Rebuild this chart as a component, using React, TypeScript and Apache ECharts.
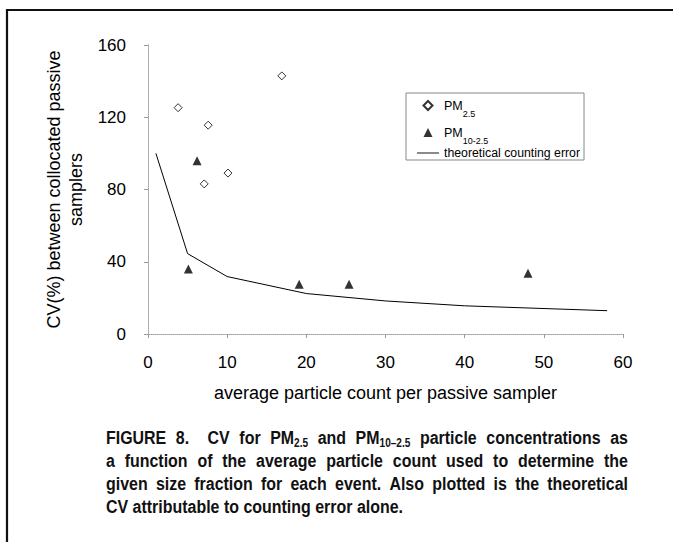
import React, { useEffect, useRef } from 'react';
import * as echarts from 'echarts';

// ---- data ----
const pm25X = [3.8, 7.6, 10.1, 7.1, 16.9];
const pm25Y = [125.3, 115.6, 89.1, 83.1, 142.9];
const pm10X = [6.2, 5.1, 19.1, 25.4, 48.0];
const pm10Y = [95.9, 36.0, 27.5, 27.5, 33.6];
const theoX = [1, 5, 10, 20, 30, 40, 58];
const theoY = [100, 44.5, 31.8, 22.4, 18.3, 15.6, 12.9];
const seriesNames = ['PM2.5', 'PM10-2.5', 'theoretical counting error'];
const xTitle = 'average particle count per passive sampler';
const yTitle = 'CV(%) between collocated passive\nsamplers';
// caption lines: [text, isSubscript][]
const captionLines: [string, boolean][][] = [
  [['FIGURE 8.   CV for PM', false], ['2.5', true], [' and PM', false], ['10\u20132.5', true], [' particle concentrations as', false]],
  [['a function of the average particle count used to determine the', false]],
  [['given size fraction for each event. Also plotted is the theoretical', false]],
  [['CV attributable to counting error alone.', false]],
];

const FONT = '"Liberation Sans", Arial, Helvetica, sans-serif';
const ICON_DIAMOND = 'path://M5,0L10,5L5,10L0,5Z';
const ICON_TRIANGLE = 'path://M5,0L10,10L0,10Z';
const ICON_LINE = 'path://M0,0L24,0L24,1L0,1Z';

export default function App() {
  const ref = useRef<HTMLDivElement>(null);
  useEffect(() => {
    if (!ref.current) return;
    const chart = echarts.init(ref.current, null, { renderer: 'svg' });

    const capSize = 19;
    const subSize = 12;
    const s0 = 0.84; // horizontal condensation of the caption face
    const canvas = document.createElement('canvas');
    const ctx = canvas.getContext('2d')!;
    const measure = (t: string, size: number) => {
      ctx.font = `bold ${size}px ${FONT}`;
      return ctx.measureText(t).width;
    };
    const capLeft = 106;
    const capRight = 628;
    const capYs = [438, 461, 484, 507];

    type Word = { parts: [string, boolean][]; gapBefore: number };
    const parse = (segs: [string, boolean][]) => {
      const words: Word[] = [];
      let cur: Word = { parts: [], gapBefore: 0 };
      segs.forEach(([t, sub]) => {
        if (sub) {
          cur.parts.push([t, true]);
          return;
        }
        t.split(/( +)/).forEach((p) => {
          if (p === '') return;
          if (/^ +$/.test(p)) {
            if (cur.parts.length) words.push(cur);
            cur = { parts: [], gapBefore: p.length };
          } else {
            cur.parts.push([p, false]);
          }
        });
      });
      if (cur.parts.length) words.push(cur);
      return words;
    };
    const wordWidth = (w: Word) =>
      w.parts.reduce((acc, [t, sub]) => acc + measure(t, sub ? subSize : capSize), 0);
    const spaceW = measure(' ', capSize) * s0;

    const captionGraphics: any[] = [];
    captionLines.forEach((segs, i) => {
      const words = parse(segs);
      const widths = words.map((w) => wordWidth(w) * s0);
      const totalW = widths.reduce((a, b) => a + b, 0);
      const baseGaps = words.map((w, k) => (k > 0 ? w.gapBefore * spaceW : 0));
      const baseTotal = baseGaps.reduce((a, b) => a + b, 0);
      const nGaps = words.length - 1;
      const justify = i < captionLines.length - 1;
      const extra = justify && nGaps > 0 ? (capRight - capLeft - totalW - baseTotal) / nGaps : 0;
      let x = capLeft;
      words.forEach((w, k) => {
        if (k > 0) x += baseGaps[k] + extra;
        const text = w.parts.map(([t, sub]) => (sub ? `{s|${t}}` : t)).join('');
        captionGraphics.push({
          type: 'text',
          x,
          y: capYs[i],
          scaleX: s0,
          style: {
            text,
            fill: '#111',
            fontSize: capSize,
            fontWeight: 'bold',
            fontFamily: FONT,
            lineHeight: 22,
            textAlign: 'left',
            verticalAlign: 'middle',
            rich: {
              s: {
                fontSize: subSize,
                fontWeight: 'bold',
                fontFamily: FONT,
                fill: '#111',
                lineHeight: 12,
                verticalAlign: 'bottom',
              },
            },
          },
        });
        x += widths[k];
      });
    });

    const option: any = {
      animation: false,
      backgroundColor: '#fff',
      grid: { left: 148, top: 45, right: 50, bottom: 208 },
      legend: {
        orient: 'vertical',
        left: 406,
        top: 93,
        padding: [0, 4, 1, 11],
        itemGap: 2,
        itemWidth: 22,
        itemHeight: 9,
        borderColor: '#888',
        borderWidth: 1,
        selectedMode: false,
        data: [
          { name: seriesNames[0], icon: ICON_DIAMOND },
          { name: seriesNames[1], icon: ICON_TRIANGLE },
          { name: seriesNames[2], icon: ICON_LINE },
        ],
        formatter: (name: string) => {
          if (name === seriesNames[0]) return '{m|PM}{s|2.5}';
          if (name === seriesNames[1]) return '{m|PM}{s|10-2.5}';
          return '{t|' + name + '}';
        },
        textStyle: {
          color: '#000',
          fontFamily: FONT,
          fontSize: 12.3,
          rich: {
            m: { fontSize: 12.5, fontFamily: FONT, color: '#000', lineHeight: 14 },
            s: { fontSize: 9, fontFamily: FONT, color: '#000', lineHeight: 9, padding: [16, 0, 0, 0] },
            t: { fontSize: 12.3, fontFamily: FONT, color: '#000', lineHeight: 9 },
          },
        },
      },
      xAxis: [
        {
          type: 'value',
          min: 0,
          max: 60,
          interval: 10,
          name: xTitle,
          nameLocation: 'middle',
          nameGap: 50,
          nameTextStyle: { fontSize: 18, fontFamily: FONT, color: '#000' },
          axisLine: { show: true, lineStyle: { color: '#777', width: 1 } },
          axisTick: { show: true, length: 4, lineStyle: { color: '#999' } },
          axisLabel: { fontSize: 17, fontFamily: FONT, color: '#000', margin: 20 },
          splitLine: { show: false },
        },
        {
          type: 'value',
          position: 'top',
          min: 0,
          max: 60,
          interval: 10,
          axisLine: { show: true, lineStyle: { color: '#bbb', width: 1, type: 'dotted' } },
          axisTick: { show: false },
          axisLabel: { show: false },
          splitLine: { show: false },
        },
      ],
      yAxis: [
        {
          type: 'value',
          min: 0,
          max: 160,
          interval: 40,
          name: yTitle,
          nameLocation: 'middle',
          nameRotate: 90,
          nameGap: 53,
          nameTextStyle: { fontSize: 18, lineHeight: 22, fontFamily: FONT, color: '#000' },
          axisLine: { show: true, lineStyle: { color: '#777', width: 1 } },
          axisTick: { show: true, length: 4, lineStyle: { color: '#999' } },
          axisLabel: { fontSize: 17, fontFamily: FONT, color: '#000', margin: 22 },
          splitLine: { show: false },
        },
        {
          type: 'value',
          position: 'right',
          min: 0,
          max: 160,
          interval: 40,
          axisLine: { show: true, lineStyle: { color: '#bbb', width: 1, type: 'dotted' } },
          axisTick: { show: false },
          axisLabel: { show: false },
          splitLine: { show: false },
        },
      ],
      series: [
        {
          name: seriesNames[0],
          type: 'scatter',
          symbol: 'diamond',
          symbolSize: 8,
          itemStyle: { color: '#fff', borderColor: '#000', borderWidth: 1 },
          data: pm25X.map((x, i) => [x, pm25Y[i]]),
          z: 3,
        },
        {
          name: seriesNames[1],
          type: 'scatter',
          symbol: 'triangle',
          symbolSize: 9,
          itemStyle: { color: '#000' },
          data: pm10X.map((x, i) => [x, pm10Y[i]]),
          z: 3,
        },
        {
          name: seriesNames[2],
          type: 'line',
          symbol: 'none',
          itemStyle: { color: '#000' },
          lineStyle: { color: '#000', width: 1 },
          data: theoX.map((x, i) => [x, theoY[i]]),
          z: 2,
        },
      ],
      graphic: [
        {
          type: 'polyline',
          shape: { points: [[7, 542], [7, 10], [673, 10]] },
          style: { stroke: '#111', lineWidth: 2.2, fill: 'none' },
        },
        ...captionGraphics,
      ],
    };
    chart.setOption(option);
    return () => chart.dispose();
  }, []);
  return (
    <div
      ref={ref}
      style={{ position: 'fixed', left: 0, top: 0, width: 673, height: 542, background: '#fff' }}
    />
  );
}
